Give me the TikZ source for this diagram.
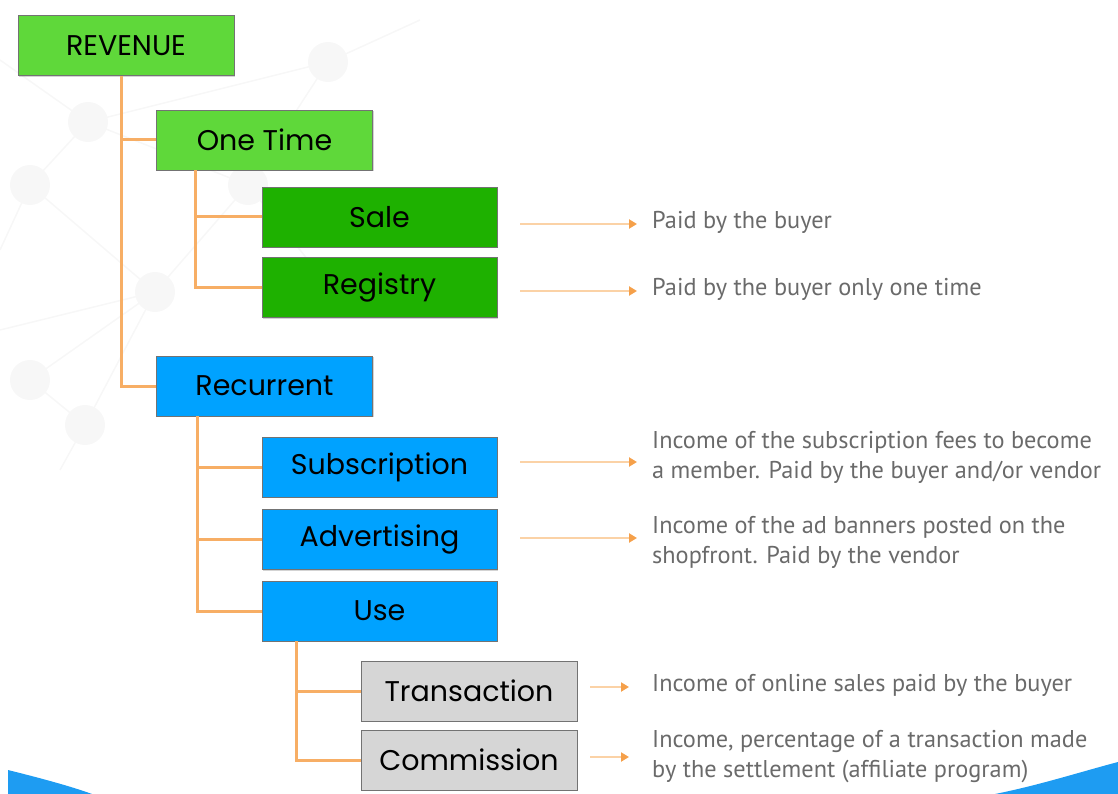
\documentclass[tikz,border=0pt]{standalone}
\usepackage{fontspec}
\setmainfont{PT Sans}
\newfontfamily\boxfont{Poppins}
\usetikzlibrary{arrows.meta,calc,shadows}
\definecolor{gLight}{HTML}{5FD83A}
\definecolor{gDark}{HTML}{1EB100}
\definecolor{bBlue}{HTML}{00A2FF}
\definecolor{gGray}{HTML}{D6D6D6}
\definecolor{connOr}{HTML}{F7AE65}
\definecolor{arrOr}{HTML}{FBD2A6}
\definecolor{tipOr}{HTML}{F5A04A}
\definecolor{descGray}{HTML}{6A6A6A}
\definecolor{netGray}{HTML}{F7F7F7}
\definecolor{swoosh}{HTML}{1E9CF2}
\tikzset{
  box/.style={draw=black!55, line width=0.9pt, minimum height=60pt, inner sep=0pt,
    font=\boxfont\fontsize{28.5}{30}\selectfont, text=black,
    drop shadow={shadow xshift=1.2pt, shadow yshift=-1.2pt, opacity=0.35}},
  wA/.style={minimum width=216pt},
  wB/.style={minimum width=235pt},
  conn/.style={draw=connOr, line width=3pt},
  arr/.style={draw=arrOr, line width=2.5pt, -{Triangle[length=8pt,width=9pt,color=tipOr]}},
  desc/.style={anchor=west, align=left, inner sep=0pt, text=descGray,
    font=\fontsize{24.3}{30}\selectfont},
  netline/.style={draw=netGray, line width=1.5pt},
  netdot/.style={fill=netGray, draw=none}
}
\begin{document}
\begin{tikzpicture}[x=1pt,y=-1pt]
\useasboundingbox (0,0) rectangle (1118,794);
% faint background network
\draw[netline] (88,122) -- (30,185) -- (155,292) -- (30,380) -- (85,425) -- (155,292) -- (248,185) -- (88,122) -- (328,62) -- (248,185);
\draw[netline] (0,60) -- (88,122) (30,185) -- (0,250) (155,292) -- (0,330) (85,425) -- (60,470) (248,185) -- (340,300) (328,62) -- (420,20);
\foreach \p in {(88,122),(30,185),(155,292),(30,380),(85,425),(328,62),(248,185)}
  \fill[netdot] \p circle (20);
% bottom swooshes
\fill[swoosh] (8,770) .. controls (40,778) and (70,786) .. (92,794) -- (8,794) -- cycle;
\fill[swoosh] (995,794) .. controls (1040,785) and (1080,772) .. (1118,762) -- (1118,794) -- cycle;

% boxes
\node[box,wA,fill=gLight] (rev) at (126,45.5) {REVENUE};
\node[box,wA,fill=gLight] (one) at (264.5,140) {One Time};
\node[box,wB,fill=gDark] (sale) at (379.5,217) {Sale};
\node[box,wB,fill=gDark] (reg) at (379.5,287.5) {Registry};
\node[box,wA,fill=bBlue] (rec) at (264.5,386) {Recurrent};
\node[box,wB,fill=bBlue] (sub) at (379.5,467) {Subscription};
\node[box,wB,fill=bBlue] (adv) at (379.5,539.5) {Advertising};
\node[box,wB,fill=bBlue] (use) at (379.5,611) {Use};
\node[box,wA,fill=gGray] (tra) at (469,691) {Transaction};
\node[box,wA,fill=gGray] (com) at (469,760) {Commission};

% tree connectors
\draw[conn] ([xshift=-5pt]rev.south) |- (one.west);
\draw[conn] ([xshift=-5pt]rev.south) |- (rec.west);
\draw[conn] ([xshift=39pt]one.south west) |- (sale.west);
\draw[conn] ([xshift=39pt]one.south west) |- (reg.west);
\draw[conn] ([xshift=41pt]rec.south west) |- (sub.west);
\draw[conn] ([xshift=41pt]rec.south west) |- (adv.west);
\draw[conn] ([xshift=41pt]rec.south west) |- (use.west);
\draw[conn] ([xshift=35pt]use.south west) |- (tra.west);
\draw[conn] ([xshift=35pt]use.south west) |- (com.west);

% descriptions
\node[desc] (d1) at (652,222) {Paid by the buyer};
\node[desc] (d2) at (652,289) {Paid by the buyer only one time};
\node[desc] (d3) at (652,457) {Income of the subscription fees to become\\a member. Paid by the buyer and/or vendor};
\node[desc] (d4) at (652,542) {Income of the ad banners posted on the\\shopfront. Paid by the vendor};
\node[desc] (d5) at (652,685) {Income of online sales paid by the buyer};
\node[desc] (d6) at (652,757) {Income, percentage of a transaction made\\by the settlement (affiliate program)};

% arrows
\draw[arr] ($(sale.east|-d1.west)+(23,2)$) -- ($(d1.west)+(-15,2)$);
\draw[arr] ($(reg.east|-d2.west)+(23,2)$) -- ($(d2.west)+(-15,2)$);
\draw[arr] ($(sub.east|-d3.west)+(23,5)$) -- ($(d3.west)+(-15,5)$);
\draw[arr] ($(adv.east|-d4.west)+(23,-4)$) -- ($(d4.west)+(-15,-4)$);
\draw[arr] ($(tra.east|-d5.west)+(13,2)$) -- ($(d5.west)+(-23,2)$);
\draw[arr] ($(com.east|-d6.west)+(13,0)$) -- ($(d6.west)+(-23,0)$);
\end{tikzpicture}
\end{document}
